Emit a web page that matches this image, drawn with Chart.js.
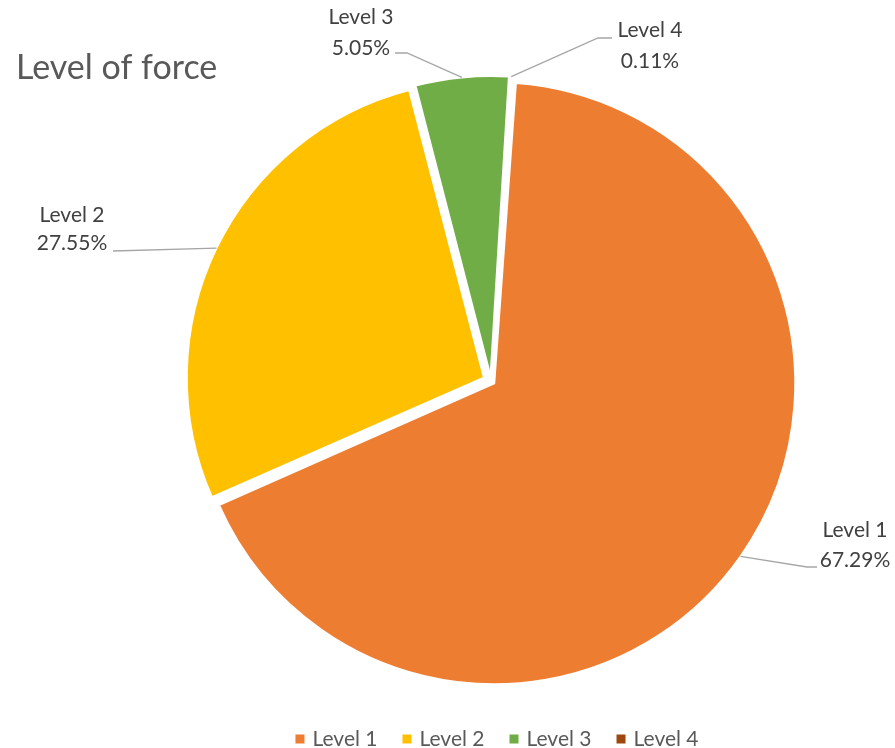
<!DOCTYPE html>
<html><head><meta charset="utf-8">
<script src="https://cdn.jsdelivr.net/npm/chart.js@4.4.0/dist/chart.umd.min.js"></script>
<style>html,body{margin:0;padding:0;background:#fff;}#wrap{width:895px;height:748px;}</style>
</head><body><div id="wrap"><canvas id="c" width="895" height="748"></canvas></div>
<script>
const chartTitle = 'Level of force';
const categories = ['Level 1', 'Level 2', 'Level 3', 'Level 4'];
const shares = [67.29, 27.55, 5.05, 0.11];
const percentLabels = ['67.29%', '27.55%', '5.05%', '0.11%'];
const sliceColors = ['#ED7D31', '#FFC000', '#70AD47', '#9E480E'];

// annotation layout (label centre x, two line centres y, leader elbow and end)
const labelLayout = [
  {cx: 855, y1: 530, y2: 560, elbow: [807, 567], end: [817, 567]},
  {cx: 72,  y1: 215, y2: 243, elbow: [113, 251], end: [113, 251]},
  {cx: 361, y1: 17,  y2: 48,  elbow: [407, 53],  end: [395, 53]},
  {cx: 650, y1: 30,  y2: 61,  elbow: [598, 38],  end: [612, 38]}
];
const FONT = 'Lato, "Open Sans", sans-serif';
const explode = 8;
const total = shares.reduce((a, b) => a + b, 0);

function arcShift(el) {
  const circ = el.endAngle - el.startAngle;
  const fix = 1 - Math.sin(Math.min(Math.PI, circ));
  return (el.options.offset || 0) / 4 * (1 + fix);
}

const overlay = {
  id: 'overlay',
  afterDraw(chart) {
    const ctx = chart.ctx;
    const meta = chart.getDatasetMeta(0);
    ctx.save();
    // title
    ctx.fillStyle = '#595959';
    ctx.font = '34px ' + FONT;
    ctx.textAlign = 'left';
    ctx.textBaseline = 'alphabetic';
    ctx.fillText(chartTitle, 16, 79);
    // data labels with leader lines
    meta.data.forEach((el, i) => {
      const L = labelLayout[i];
      const half = (el.startAngle + el.endAngle) / 2;
      const s = arcShift(el);
      const r = el.outerRadius + s;
      const sx = el.x + Math.cos(half) * r;
      const sy = el.y + Math.sin(half) * r;
      ctx.strokeStyle = '#A6A6A6';
      ctx.lineWidth = 1.3;
      ctx.beginPath();
      ctx.moveTo(sx, sy);
      ctx.lineTo(L.elbow[0], L.elbow[1]);
      ctx.lineTo(L.end[0], L.end[1]);
      ctx.stroke();
      ctx.fillStyle = '#404040';
      ctx.font = '21px ' + FONT;
      ctx.textAlign = 'center';
      ctx.textBaseline = 'middle';
      ctx.fillText(categories[i], L.cx, L.y1);
      ctx.fillText(percentLabels[i], L.cx, L.y2);
    });
    // legend
    ctx.font = '21px ' + FONT;
    ctx.textBaseline = 'middle';
    ctx.textAlign = 'left';
    const box = 9, gapBox = 8, gapItem = 25, legendY = 739, legendCx = 497;
    const widths = categories.map(c => box + gapBox + ctx.measureText(c).width);
    const totalW = widths.reduce((a, b) => a + b, 0) + gapItem * (categories.length - 1);
    let x = legendCx - totalW / 2;
    categories.forEach((c, i) => {
      ctx.fillStyle = sliceColors[i];
      ctx.fillRect(x, legendY - box / 2, box, box);
      ctx.fillStyle = '#595959';
      ctx.fillText(c, x + box + gapBox, legendY);
      x += widths[i] + gapItem;
    });
    ctx.restore();
  }
};

new Chart(document.getElementById('c'), {
  type: 'pie',
  data: {
    labels: categories,
    datasets: [{
      data: shares,
      backgroundColor: sliceColors,
      borderColor: '#ffffff',
      borderWidth: 2,
      radius: 297,
      offset: (c) => {
        const circ = c.dataset.data[c.dataIndex] / total * Math.PI * 2;
        const fix = 1 - Math.sin(Math.min(Math.PI, circ));
        return explode * 4 / (1 + fix);
      },
      hoverOffset: 0
    }]
  },
  options: {
    responsive: false,
    animation: false,
    devicePixelRatio: 1,
    rotation: 4,
    layout: {padding: {left: 87, right: 0, top: 14, bottom: 0}},
    plugins: {legend: {display: false}, tooltip: {enabled: false}, title: {display: false}},
    events: []
  },
  plugins: [overlay]
});
</script></body></html>
